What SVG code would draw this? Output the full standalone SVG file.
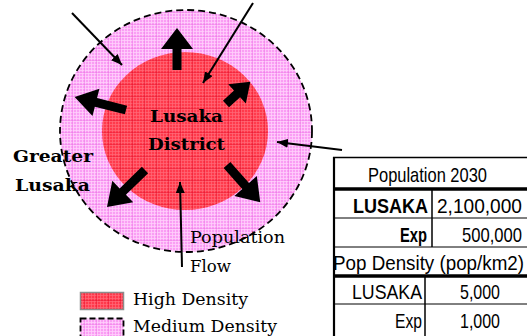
<svg xmlns="http://www.w3.org/2000/svg" width="527" height="336" viewBox="0 0 527 336">
  <defs>
    <!-- fine grid texture for the medium density zone -->
    <pattern id="pinkGrid" width="12" height="12" patternUnits="userSpaceOnUse">
      <rect width="12" height="12" fill="#fa9ef4"/>
      <path d="M0,1.5H12M0,4.5H12M0,7.5H12M0,10.5H12M1.5,0V12M4.5,0V12M7.5,0V12M10.5,0V12" stroke="#ffd0fb" stroke-width="0.8" fill="none"/>
      <path d="M0,0H12M0,0V12" stroke="#ec6fe4" stroke-width="0.8" fill="none"/>
    </pattern>
    <!-- fine grid texture for the high density zone -->
    <pattern id="redGrid" width="12" height="12" patternUnits="userSpaceOnUse">
      <rect width="12" height="12" fill="#ff3a4c"/>
      <path d="M0,1.5H12M0,4.5H12M0,7.5H12M0,10.5H12M1.5,0V12M4.5,0V12M7.5,0V12M10.5,0V12" stroke="#ff6a78" stroke-width="0.7" fill="none"/>
      <path d="M0,0H12M0,0V12" stroke="#e8102c" stroke-width="0.9" fill="none"/>
    </pattern>
    <marker id="tip" viewBox="0 0 11 9" refX="11" refY="4.5" markerWidth="11" markerHeight="9" markerUnits="userSpaceOnUse" orient="auto">
      <path d="M0,0L11,4.5L0,9Z" fill="#000"/>
    </marker>
    <style>
      .zoneOuter { fill: url(#pinkGrid); stroke: #000; stroke-width: 1.8; stroke-dasharray: 7 4; }
      .zoneInner { fill: url(#redGrid); }
      .blk { fill: #000; }
      .thin { stroke: #000; stroke-width: 2; fill: none; marker-end: url(#tip); }
      .lbl { font-family: "DejaVu Serif", "Liberation Serif", serif; fill: #000; }
      .bold { font-weight: bold; }
      .tbl { font-family: "Liberation Sans Narrow", "Liberation Sans", Arial, sans-serif; fill: #000; }
      .rule { stroke: #000; fill: none; }
    </style>
  </defs>

  <!-- density zones -->
  <g id="greater-lusaka-zone">
    <ellipse class="zoneOuter" cx="186" cy="131" rx="126" ry="121"/>
  </g>
  <g id="lusaka-district-zone">
    <ellipse class="zoneInner" cx="185" cy="131" rx="83" ry="79"/>
  </g>

  <!-- population flow arrows -->
  <g id="connectors">
    <g transform="translate(177,70) rotate(-90)"><path class="blk" d="M0,-4.5H21V-16L42,0L21,16V4.5H0Z"/></g>
    <g transform="translate(226,104) rotate(-42.5)"><path class="blk" d="M0,-4.5H15V-13L33,0L15,13V4.5H0Z"/></g>
    <g transform="translate(126,110) rotate(-165.7)"><path class="blk" d="M0,-4.5H31V-14L53,0L31,14V4.5H0Z"/></g>
    <g transform="translate(145,170) rotate(135.8)"><path class="blk" d="M0,-4.5H31V-15L53,0L31,15V4.5H0Z"/></g>
    <g transform="translate(227,165) rotate(48.3)"><path class="blk" d="M0,-4.5H28V-15L50,0L28,15V4.5H0Z"/></g>

    <line class="thin" x1="72" y1="13" x2="122" y2="65"/>
    <line class="thin" x1="253" y1="3" x2="203" y2="83"/>
    <line class="thin" x1="342" y1="150" x2="277" y2="142"/>
    <line class="thin" x1="182" y1="267" x2="180" y2="182"/>
  </g>

  <g id="district-label">
    <text class="lbl bold" x="150" y="122" font-size="17" textLength="73" lengthAdjust="spacingAndGlyphs">Lusaka</text>
    <text class="lbl bold" x="148" y="150" font-size="17" textLength="77" lengthAdjust="spacingAndGlyphs">District</text>
  </g>

  <g id="greater-label">
    <text class="lbl bold" x="13" y="162" font-size="17" textLength="80" lengthAdjust="spacingAndGlyphs">Greater</text>
    <text class="lbl bold" x="15" y="191" font-size="17" textLength="75" lengthAdjust="spacingAndGlyphs">Lusaka</text>
  </g>

  <g id="flow-label">
    <text class="lbl" x="190" y="243" font-size="17" textLength="95" lengthAdjust="spacingAndGlyphs">Population</text>
    <text class="lbl" x="190" y="272" font-size="17" textLength="41" lengthAdjust="spacingAndGlyphs">Flow</text>
  </g>

  <g id="legend">
    <rect x="80.5" y="292.5" width="43" height="17" fill="url(#redGrid)" stroke="#8c8c8c" stroke-width="1.5"/>
    <text class="lbl" x="133" y="305" font-size="16" textLength="115" lengthAdjust="spacingAndGlyphs">High Density</text>
    <rect x="80.5" y="318.5" width="43" height="22" fill="url(#pinkGrid)" stroke="#000" stroke-width="1.8" stroke-dasharray="6 3"/>
    <text class="lbl" x="133" y="332" font-size="16" textLength="144" lengthAdjust="spacingAndGlyphs">Medium Density</text>
  </g>

  <g id="stats-table" font-size="21">
    <line class="rule" x1="333" y1="157.5" x2="527" y2="157.5" stroke-width="1.5"/>
    <line class="rule" x1="333" y1="189" x2="527" y2="189" stroke-width="3.5"/>
    <line class="rule" x1="333" y1="218" x2="527" y2="218" stroke-width="1"/>
    <line class="rule" x1="333" y1="247" x2="527" y2="247" stroke-width="1"/>
    <line class="rule" x1="333" y1="276" x2="527" y2="276" stroke-width="3.5"/>
    <line class="rule" x1="333" y1="304" x2="527" y2="304" stroke-width="1"/>
    <line class="rule" x1="334" y1="157" x2="334" y2="336" stroke-width="2.2"/>
    <line class="rule" x1="432" y1="189" x2="432" y2="247" stroke-width="1.5"/>
    <line class="rule" x1="425" y1="276" x2="425" y2="336" stroke-width="1.5"/>

    <text class="tbl" x="368" y="182" textLength="119" lengthAdjust="spacingAndGlyphs">Population 2030</text>
    <text class="tbl" x="353" y="213" font-weight="bold" textLength="75" lengthAdjust="spacingAndGlyphs">LUSAKA</text>
    <text class="tbl" x="437" y="213" textLength="85" lengthAdjust="spacingAndGlyphs">2,100,000</text>
    <text class="tbl" x="400" y="242" font-weight="bold" textLength="27" lengthAdjust="spacingAndGlyphs">Exp</text>
    <text class="tbl" x="462" y="242" textLength="60" lengthAdjust="spacingAndGlyphs">500,000</text>
    <text class="tbl" x="333" y="270" textLength="191" lengthAdjust="spacingAndGlyphs">Pop Density (pop/km2)</text>
    <text class="tbl" x="352" y="299" textLength="70" lengthAdjust="spacingAndGlyphs">LUSAKA</text>
    <text class="tbl" x="460" y="299" textLength="40" lengthAdjust="spacingAndGlyphs">5,000</text>
    <text class="tbl" x="395" y="328" textLength="27" lengthAdjust="spacingAndGlyphs">Exp</text>
    <text class="tbl" x="460" y="328" textLength="40" lengthAdjust="spacingAndGlyphs">1,000</text>
  </g>
</svg>
